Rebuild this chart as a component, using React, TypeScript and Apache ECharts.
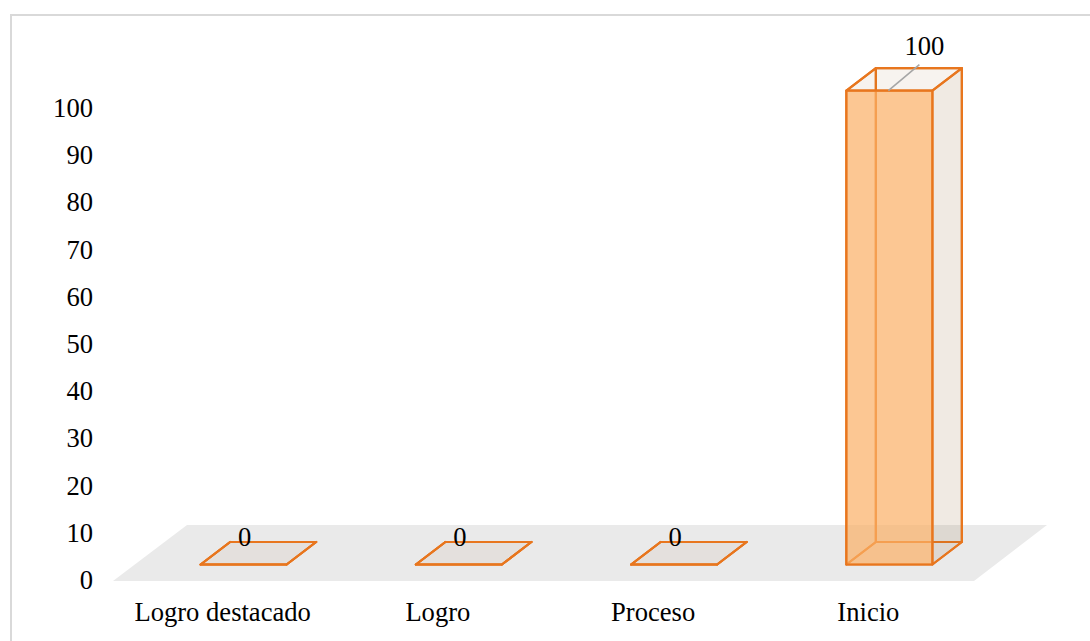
import React, { useEffect, useRef } from "react";
import * as echarts from "echarts";

const categories = ["Logro destacado", "Logro", "Proceso", "Inicio"];
const values = [0, 0, 0, 100];
const yTicks = { min: 0, max: 100, interval: 10 };

const FONT = '"Liberation Serif", "Times New Roman", serif';
const FONT_SIZE = 26.6;
const DX = 29.5;
const DY = -22.5;
const BAR_W = 86;
const BAR_SHIFT_X = 21;
const BAR_SHIFT_Y = -15.5;
const BAR_SCALE = 1.004;
const STROKE = "#E8761E";

function poly(points: number[][], fill: string, lineWidth = 2.2, stroke: string = STROKE) {
  return {
    type: "polygon",
    shape: { points },
    style: { fill, stroke, lineWidth, lineJoin: "round" },
  };
}

function renderBar(_params: any, api: any) {
  const idx = api.value(0);
  const val = api.value(1);
  const base = api.coord([idx, 0]);
  const top = api.coord([idx, val]);
  const l = base[0] + BAR_SHIFT_X - BAR_W / 2;
  const r = l + BAR_W;
  const b = base[1] + BAR_SHIFT_Y;
  const t = b - (base[1] - top[1]) * BAR_SCALE;
  const tint = (a: number) => `rgba(150,105,55,${a})`;
  const children: any[] = [
    poly([[l + DX, b + DY], [r + DX, b + DY], [r + DX, t + DY], [l + DX, t + DY]], tint(0.02)),
    poly([[l, b], [l + DX, b + DY], [l + DX, t + DY], [l, t]], tint(0.02)),
    poly([[l, b], [r, b], [r + DX, b + DY], [l + DX, b + DY]], tint(0.01)),
    poly([[r, b], [r + DX, b + DY], [r + DX, t + DY], [r, t]], tint(0.12)),
    poly([[l, t], [r, t], [r + DX, t + DY], [l + DX, t + DY]], tint(0.06)),
    poly([[l, b], [r, b], [r, t], [l, t]], "rgba(251,176,102,0.7)"),
  ];
  const cx = (l + r) / 2;
  if (val > 0) {
    children.push({
      type: "line",
      shape: { x1: cx - 1, y1: t, x2: cx + 30, y2: t - 26 },
      style: { stroke: "#A6A6A6", lineWidth: 1.6 },
    });
    children.push({
      type: "text",
      style: {
        text: String(val), x: cx + 35, y: t - 45, align: "center", verticalAlign: "middle",
        fill: "#000", fontSize: FONT_SIZE, fontFamily: FONT,
      },
    });
  } else {
    children.push({
      type: "text",
      style: {
        text: String(val), x: cx + 1, y: t - 27.5, align: "center", verticalAlign: "middle",
        fill: "#000", fontSize: FONT_SIZE, fontFamily: FONT,
      },
    });
  }
  return { type: "group", children };
}

function renderFloor(params: any) {
  const c = params.coordSys;
  const y0 = c.y + c.height + 1;
  const x0 = c.x - 2;
  const x1 = x0 + c.width;
  return {
    type: "polygon",
    shape: { points: [[x0, y0], [x1, y0], [x1 + 73, y0 - 56], [x0 + 74, y0 - 56]] },
    style: { fill: "#EAEAEA" },
  };
}

export default function App() {
  const ref = useRef<HTMLDivElement>(null);
  useEffect(() => {
    const chart = echarts.init(ref.current!, undefined, { renderer: "svg" });
    chart.setOption({
      animation: false,
      backgroundColor: "#fff",
      grid: { left: 115, top: 108, width: 861, height: 472, containLabel: false },
      graphic: [
        {
          type: "polyline",
          shape: { points: [[11, 641], [11, 15], [1090, 15]] },
          style: { stroke: "#D9D9D9", lineWidth: 2, fill: "none" },
        },
      ],
      xAxis: {
        type: "category",
        data: categories,
        axisLine: { show: false },
        axisTick: { show: false },
        axisLabel: { color: "#000", fontSize: FONT_SIZE, fontFamily: FONT, margin: 18, interval: 0, hideOverlap: false },
      },
      yAxis: {
        type: "value",
        min: yTicks.min,
        max: yTicks.max,
        interval: yTicks.interval,
        axisLine: { show: false },
        axisTick: { show: false },
        splitLine: { show: false },
        axisLabel: { color: "#000", fontSize: FONT_SIZE, fontFamily: FONT, margin: 22 },
      },
      series: [
        { type: "custom", renderItem: renderFloor, data: [[0, 0]], silent: true, z: 1, clip: false },
        {
          type: "custom",
          renderItem: renderBar,
          data: categories.map((_, i) => [i, values[i]]),
          encode: { x: 0, y: 1 },
          silent: true,
          z: 2,
          clip: false,
        },
      ],
    });
    return () => chart.dispose();
  }, []);
  return <div ref={ref} style={{ position: "fixed", left: 0, top: 0, width: 1090, height: 641 }} />;
}
